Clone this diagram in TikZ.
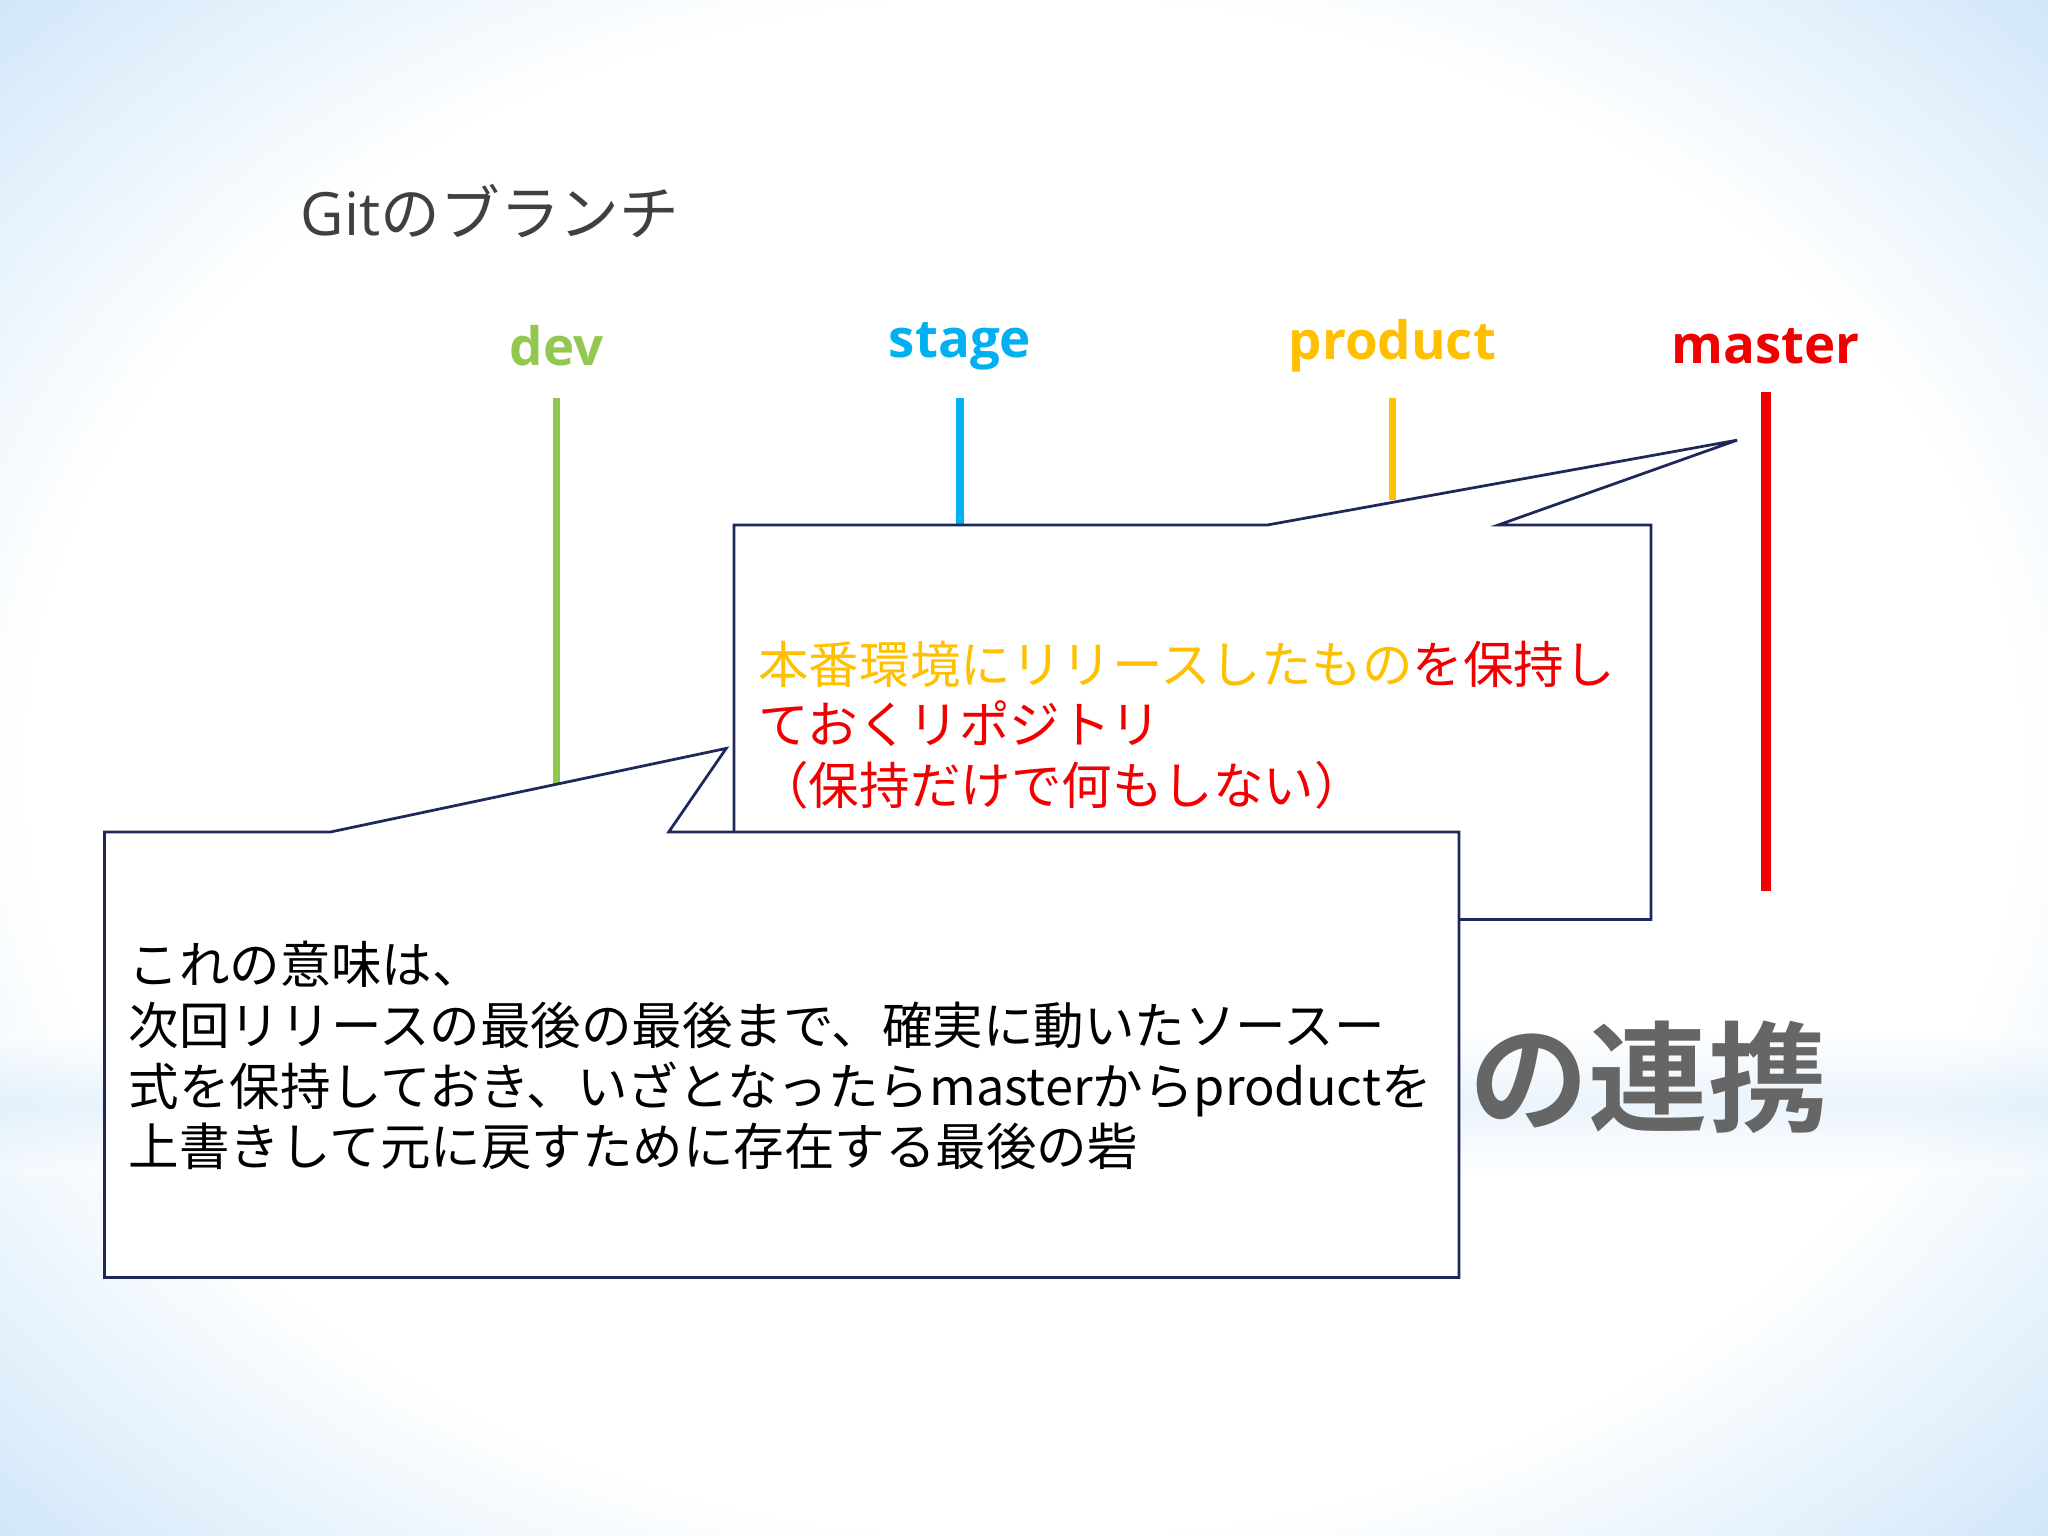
\documentclass[tikz,border=0pt]{standalone}
\usepackage{fontspec}
\setmainfont{Noto Sans CJK JP}[BoldFont={Noto Sans CJK JP Bold}]
\newfontfamily\lat{Open Sans}
\definecolor{bgblue}{RGB}{160,205,242}
\definecolor{navy}{RGB}{30,40,90}
\definecolor{dgreen}{RGB}{146,200,80}
\definecolor{dblue}{RGB}{0,176,240}
\definecolor{dorange}{RGB}{255,192,0}
\definecolor{dred}{RGB}{240,0,0}
\definecolor{tgray}{RGB}{64,64,64}
\pgfdeclareradialshading{glow}{\pgfpoint{0bp}{0bp}}{color(0bp)=(white); color(22bp)=(white); color(42bp)=(bgblue); color(50bp)=(bgblue)}
\tikzset{
  call/.style={draw=navy,line width=0.6pt,fill=white},
  blab/.style={font=\lat\bfseries\fontsize{11.5}{14}\selectfont,anchor=center},
  br/.style={line width=1.6pt},
  ctext/.style={anchor=north west,align=left,inner sep=0pt,font=\fontsize{11}{13.2}\selectfont}
}
\begin{document}
\begin{tikzpicture}[x=0.01cm,y=-0.01cm]
\useasboundingbox (0,0) rectangle (1568,1176);
\fill[bgblue] (0,0) rectangle (1568,1176);
\shade[shading=glow] (-80,-80) rectangle (1648,1256);
\shade[top color=white,bottom color=white,middle color=bgblue!60,opacity=0.35] (0,790) rectangle (1568,900);
\node[anchor=west,text=tgray,font=\lat\fontsize{13}{15}\selectfont] (title) at (218,162) {Git\fontspec{Noto Sans CJK JP}のブランチ};
\node[blab,text=dgreen] (dev) at (426,265) {dev};
\node[blab,text=dblue] (stage) at (735,265) {stage};
\node[blab,text=dorange] (product) at (1066,265) {product};
\node[blab,text=dred] (master) at (1352,265) {master};
\node[anchor=center,text=gray!80!black,font=\bfseries\fontsize{26}{30}\selectfont] (big) at (1262,825) {の連携};
\coordinate (d2) at (426,620); \coordinate (s2) at (735,402);
\coordinate (p2) at (1066,383); \coordinate (m2) at (1352,682);
\draw[br,dgreen] (426,305) -- (d2);
\draw[br,dblue] (735,305) -- (s2);
\draw[br,dorange] (1066,305) -- (p2);
\draw[br,dred,line width=2.2pt] (1352,300) -- (m2);
\draw[call] (562,402) -- (970,402) -- (1330,337) -- (1147,402) -- (1264,402) -- (1264,704) -- (562,704) -- cycle;
\node[ctext,text=dred] (c1) at (580,490) {\textcolor{dorange}{本番環境にリリースしたもの}を保持し\\ておくリポジトリ\\（保持だけで何もしない）};
\draw[call] (80,637) -- (253,637) -- (556,573) -- (512,637) -- (1117,637) -- (1117,978) -- (80,978) -- cycle;
\node[ctext,text=black] (c2) at (98,720) {これの意味は、\\次回リリースの最後の最後まで、確実に動いたソースー\\式を保持しておき、いざとなったらmasterからproductを\\上書きして元に戻すために存在する最後の砦};
\end{tikzpicture}
\end{document}
